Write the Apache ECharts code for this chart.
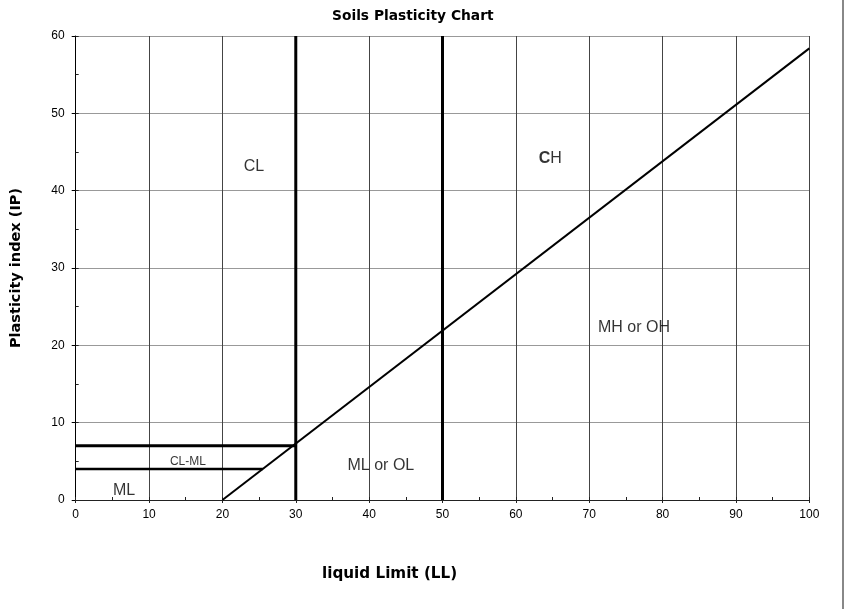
<!DOCTYPE html>
<html>
<head>
<meta charset="utf-8">
<script src="https://cdn.jsdelivr.net/npm/echarts@6/dist/echarts.min.js"></script>
<style>
  html, body { margin: 0; padding: 0; background: #fff; }
  #chart { width: 845px; height: 609px; }
</style>
</head>
<body>
<div id="chart"></div>
<script>
// Casagrande plasticity chart: liquid limit (LL) against plasticity index (IP)
const xTicks = [0, 10, 20, 30, 40, 50, 60, 70, 80, 90, 100];
const yTicks = [0, 10, 20, 30, 40, 50, 60];

// A-line: IP = 0.73 (LL - 20)
const aLine = [[20, 0], [100, 58.4]];
// vertical divisions at LL = 30 and LL = 50
const divisionLL = [30, 50];
// CL-ML band limits
const bandTop = [[0, 7], [30, 7]];
const bandBottom = [[0, 4], [25.5, 4]];

// zone labels and where they sit (LL, IP)
const zoneNames = ['CL', 'CH', 'MH or OH', 'ML or OL', 'CL-ML', 'ML'];
const zoneLL = [24.3, 64.7, 76.1, 41.6, 15.3, 6.6];
const zoneIP = [43.1, 44.1, 22.3, 4.5, 4.95, 1.2];

const FONT = 'Liberation Sans, Arial, sans-serif';
const HEAD = '"DejaVu Sans", sans-serif';

const chart = echarts.init(document.getElementById('chart'));

const lineSeries = (data, width) => ({
  type: 'line',
  data: data,
  symbol: 'none',
  silent: true,
  animation: false,
  lineStyle: { color: '#000', width: width },
  z: 5
});

const series = [];
series.push(lineSeries(aLine, 2));
divisionLL.forEach(ll => series.push(lineSeries([[ll, yTicks[0]], [ll, yTicks[yTicks.length - 1]]], 3)));
series.push(lineSeries(bandTop, 3));
series.push(lineSeries(bandBottom, 2.5));

series.push({
  type: 'scatter',
  symbolSize: 0,
  silent: true,
  animation: false,
  z: 6,
  data: zoneNames.map((n, i) => {
    const item = { name: n, value: [zoneLL[i], zoneIP[i]] };
    if (n === 'CH') {
      item.label = { formatter: '{b|C}H', rich: { b: { fontWeight: 'bold', fontSize: 16, fontFamily: FONT, color: '#000' } } };
    }
    if (n === 'CL-ML') {
      item.label = { fontSize: 12 };
    }
    return item;
  }),
  label: {
    show: true,
    position: 'inside',
    formatter: '{b}',
    fontFamily: FONT,
    fontSize: 16,
    color: '#000'
  }
});

const grid = { left: 75.7, right: 35.7, top: 36, bottom: 109 };

chart.setOption({
  backgroundColor: '#fff',
  animation: false,
  title: [
    {
      text: 'Soils Plasticity Chart',
      left: 327, top: 4,
      textStyle: { fontFamily: HEAD, fontWeight: 'bold', fontSize: 13.8, color: '#000' }
    },
    {
      text: 'liquid Limit (LL)',
      left: 317, top: 562,
      textStyle: { fontFamily: HEAD, fontWeight: 'bold', fontSize: 15.2, color: '#000' }
    }
  ],
  grid: grid,
  xAxis: [
    {
      type: 'value', min: 0, max: 100, interval: 10,
      axisLine: { show: true, onZero: false, lineStyle: { color: '#222', width: 1 } },
      axisTick: { show: true, length: 3, lineStyle: { color: '#222' } },
      axisLabel: { fontFamily: FONT, fontSize: 12, color: '#000', margin: 9 },
      splitLine: { show: true, lineStyle: { color: '#444', width: 1 } }
    },
    {
      type: 'value', min: 0, max: 100, interval: 5, position: 'bottom',
      axisLine: { show: false },
      axisTick: { show: true, inside: true, length: 3, lineStyle: { color: '#222' } },
      axisLabel: { show: false },
      splitLine: { show: false }
    }
  ],
  yAxis: [
    {
      type: 'value', min: 0, max: 60, interval: 10,
      name: 'Plasticity index (IP)',
      nameLocation: 'middle',
      nameGap: 52,
      nameTextStyle: { fontFamily: HEAD, fontWeight: 'bold', fontSize: 14.5, color: '#000' },
      axisLine: { show: true, onZero: false, lineStyle: { color: '#000', width: 1 } },
      axisTick: { show: true, length: 4, lineStyle: { color: '#000' } },
      axisLabel: { fontFamily: FONT, fontSize: 12, color: '#000', margin: 11 },
      splitLine: { show: true, lineStyle: { color: '#999', width: 1 } }
    },
    {
      type: 'value', min: 0, max: 60, interval: 5, position: 'left',
      axisLine: { show: false },
      axisTick: { show: true, inside: true, length: 3, lineStyle: { color: '#222' } },
      axisLabel: { show: false },
      splitLine: { show: false }
    }
  ],
  graphic: [
    {
      type: 'rect',
      shape: { x: 842, y: 0, width: 2, height: 609 },
      style: { fill: '#888' },
      silent: true
    }
  ],
  series: series
});
</script>
</body>
</html>
